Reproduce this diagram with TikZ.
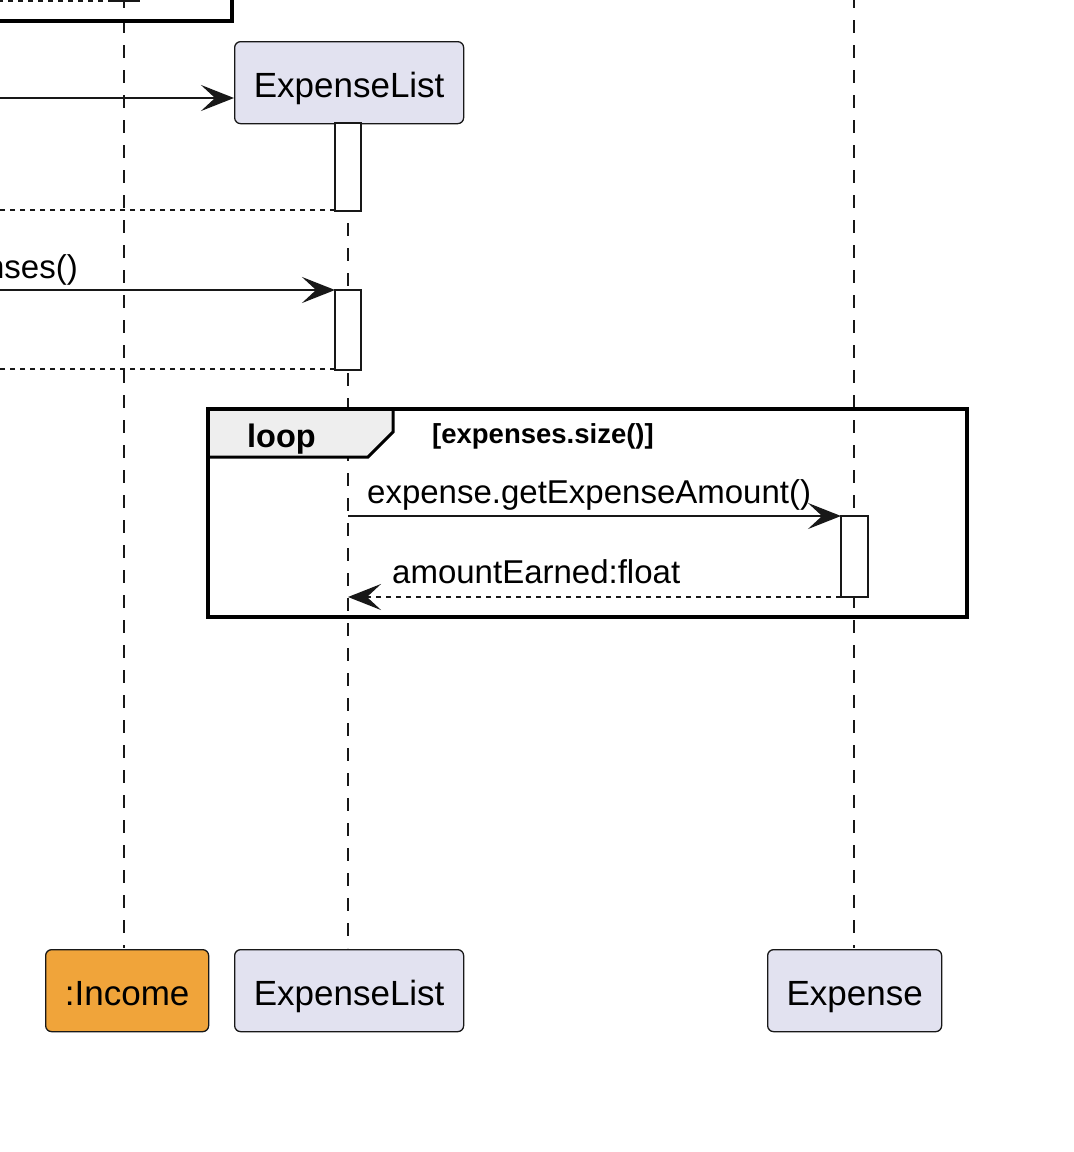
\documentclass[tikz,border=0pt]{standalone}
\usepackage{fontspec}
\setmainfont{Liberation Sans}
\usetikzlibrary{arrows.meta}
\definecolor{partfill}{HTML}{E2E2F0}
\definecolor{incfill}{HTML}{F0A43A}
\definecolor{ink}{HTML}{181818}
\definecolor{tabfill}{HTML}{EEEEEE}
\tikzset{
  part/.style={draw=ink, line width=1.3pt, rounded corners=6pt, fill=partfill, minimum height=82pt, inner sep=0pt, text height=30pt, text depth=0pt, font=\fontsize{35}{40}\selectfont, anchor=north west},
  lifeline/.style={draw=ink, line width=1.3pt, dash pattern=on 12.5pt off 12.5pt},
  actbar/.style={draw=ink, line width=2.5pt, fill=white, outer sep=0pt, inner sep=0pt},
  msg/.style={draw=ink, line width=2.8pt, -{Stealth[length=33pt,width=26pt,inset=14pt]}},
  ret/.style={draw=ink, line width=2.8pt, dash pattern=on 5pt off 5pt, -{Stealth[length=33pt,width=26pt,inset=14pt]}},
  retnoarrow/.style={draw=ink, line width=2.8pt, dash pattern=on 5pt off 5pt},
  frameline/.style={draw=black, line width=3.5pt},
  msglabel/.style={font=\fontsize{33}{36}\selectfont, inner sep=0pt, anchor=base west},
}
\begin{document}
\begin{tikzpicture}[x=1pt,y=-1pt]
\useasboundingbox (0,0) rectangle (1074,1152);
\clip (0,0) rectangle (1074,1152);
% lifelines
\coordinate (incTop) at (124,-5);
\coordinate (incBot) at (124,948);
\coordinate (elTop) at (348,123);
\coordinate (elBot) at (348,948);
\coordinate (exTop) at (854,-5);
\coordinate (exBot) at (854,948);
\draw[lifeline] (incTop) -- (incBot);
\draw[lifeline] (elTop) -- (elBot);
\draw[lifeline] (exTop) -- (exBot);

% top clipped frame and activation
\draw[frameline] (-10,21) -- (232,21) -- (232,-10);
\node[actbar, minimum width=26pt, minimum height=20pt, anchor=south west] (incAct) at (113,1) {};
\coordinate (leftA) at (-10,0.5);
\draw[retnoarrow] (incAct.south west |- leftA) -- (leftA);

% ExpenseList header
\node[part, minimum width=229pt] (elHead) at (234,41) {ExpenseList};
\coordinate (createStart) at (-10,98);
\draw[msg] (createStart) -- (elHead.west |- createStart);

% activation 1
\node[actbar, minimum width=26pt, minimum height=88pt, anchor=north west] (act1) at (335,123) {};
\coordinate (ret1End) at (-10,210);
\draw[retnoarrow] (act1.south west |- ret1End) -- (ret1End);

% getExpenses call
\node[actbar, minimum width=26pt, minimum height=80pt, anchor=north west] (act2) at (335,290) {};
\coordinate (call2Start) at (-10,290);
\draw[msg] (call2Start) -- (act2.north west);
\node[msglabel, anchor=base east] (call2Label) at (78,278) {getExpenses()};
\coordinate (ret2End) at (-10,369);
\draw[retnoarrow] (act2.south west |- ret2End) -- (ret2End);

% loop frame
\draw[line width=3pt, fill=tabfill] (208,409) -- (393,409) -- (393,432) -- (368,457) -- (208,457) -- cycle;
\draw[frameline] (208,409) rectangle (967,617);
\node[font=\bfseries\fontsize{32.5}{36}\selectfont, inner sep=0pt, anchor=base west] (loopLabel) at (247,447) {loop};
\node[font=\bfseries\fontsize{27.5}{30}\selectfont, inner sep=0pt, anchor=base west] (guard) at (432,443) {[expenses.size()]};

% Expense activation and messages
\node[actbar, minimum width=27pt, minimum height=81pt, anchor=north west] (act3) at (841,516) {};
\coordinate (call3Start) at (348,516);
\draw[msg] (call3Start) -- (act3.north west);
\node[msglabel] (call3Label) at (367,503) {expense.getExpenseAmount()};
\coordinate (ret3End) at (348,597);
\draw[ret] (act3.south west) -- (ret3End);
\node[msglabel] (ret3Label) at (392,583) {amountEarned:float};

% bottom participants
\node[part, minimum width=163pt, fill=incfill] (incFoot) at (45,949) {:Income};
\node[part, minimum width=229pt] (elFoot) at (234,949) {ExpenseList};
\node[part, minimum width=174pt] (exFoot) at (767,949) {Expense};
\end{tikzpicture}
\end{document}
